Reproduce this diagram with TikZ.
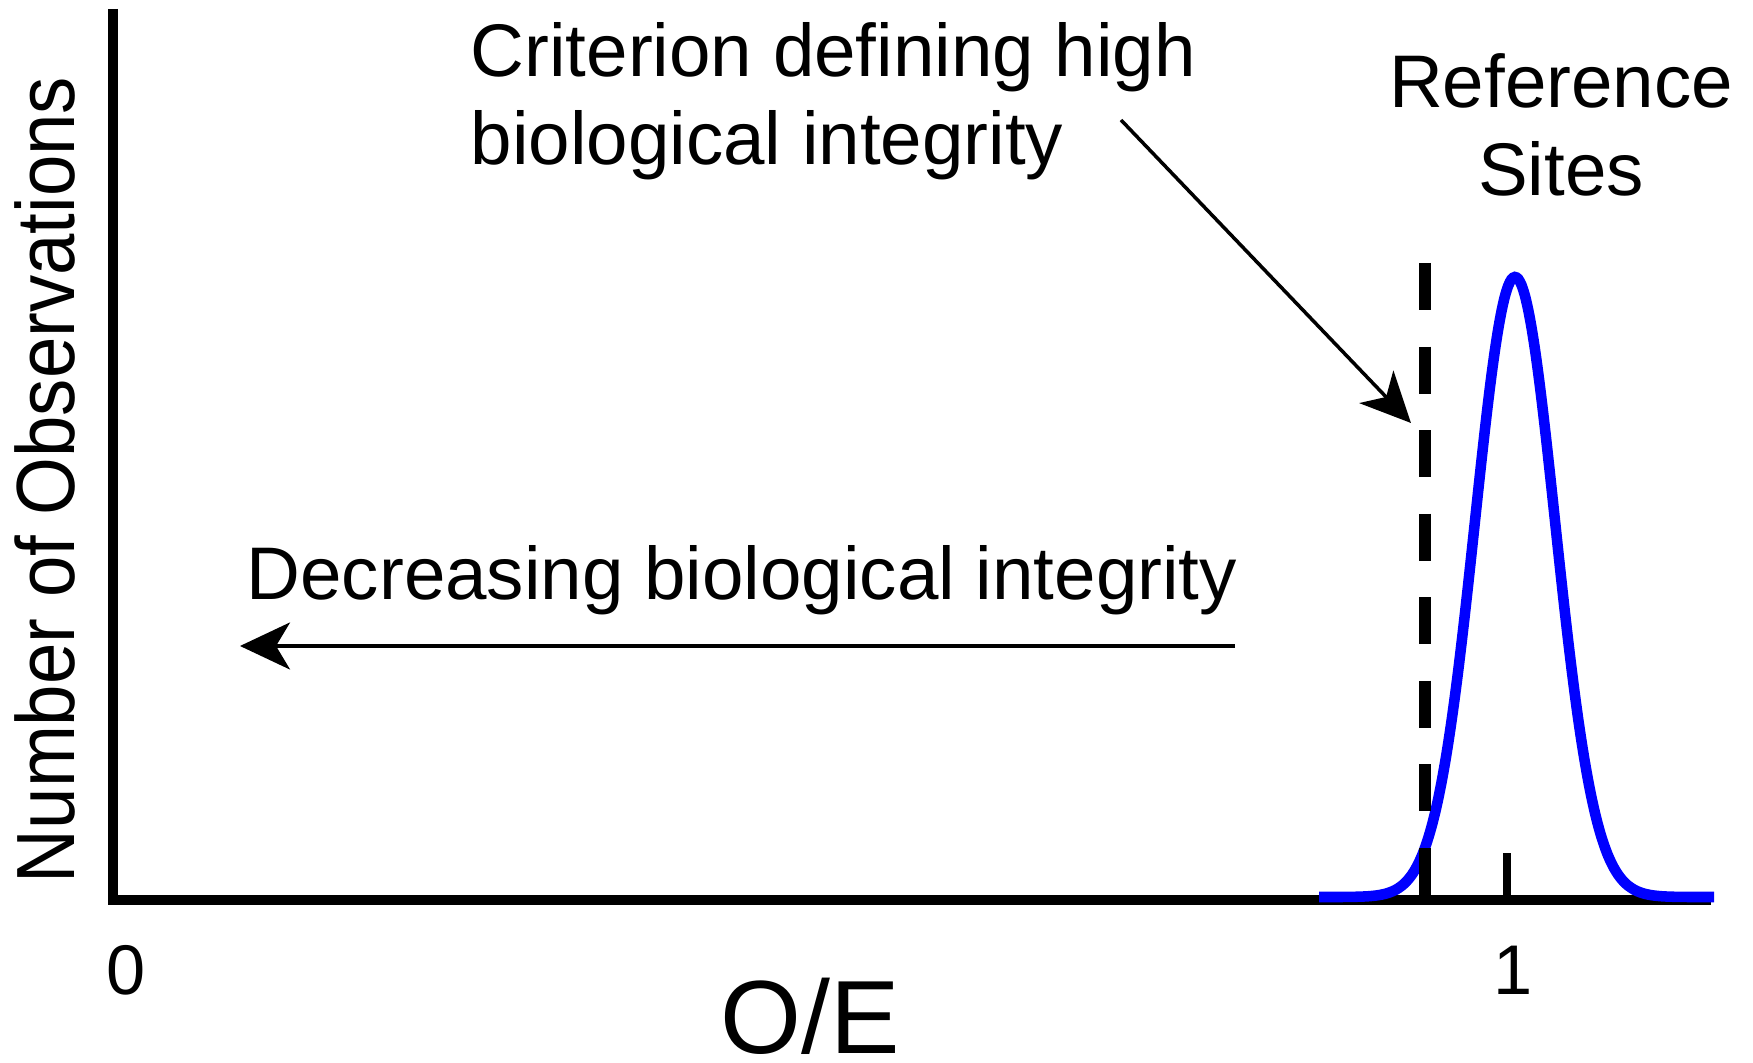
\documentclass[tikz,border=0pt]{standalone}
\usepackage{fontspec}
\setmainfont{Liberation Sans}
\usetikzlibrary{arrows.meta,positioning}

\begin{document}
\begin{tikzpicture}[x=0.01cm,y=0.01cm]
    \tikzstyle{every node}+=[inner sep=0pt]
    \tikzstyle{axisline}=[black, line width=3.1pt, line join=miter]
    \tikzstyle{note}=[font=\fontsize{21.2}{25.2}\selectfont, align=left]
    \tikzstyle{pointer}=[black, line width=1pt, -{Stealth[length=0.5cm, width=0.47cm, inset=0.14cm]}]
    \useasboundingbox (0,0) rectangle (1753,1063);
    % axes
    \draw [axisline] (113,1054) -- (113,163) -- (1711,163);
    \draw [black, line width=2pt] (1507,163) -- (1507,210);
    \node [font=\fontsize{20}{22}\selectfont] (zero) at (126,93) {0};
    \node [font=\fontsize{20}{22}\selectfont] (one) at (1513,93) {1};
    \node [font=\fontsize{29.6}{32}\selectfont] (oe) at (810,47) {O/E};
    \node [rotate=90, font=\fontsize{23.5}{26}\selectfont] (ylabel) at (45,583) {\scalebox{0.9}[1]{Number of Observations}};
    % reference distribution
    \draw [blue, line width=3pt, domain=1319:1714, samples=120, smooth]
        plot (\x, {166+620*exp(-((\x-1515)/40)^2/2)});
    \draw [black, line width=3.3pt, dash pattern=on 0.47cm off 0.365cm] (1425,800) -- (1425,163);
    % labels
    \node [note, anchor=base west] (crit) at (470,898) {Criterion defining high\\biological integrity};
    \node [note, align=center, anchor=base] (refsites) at (1561,867) {Reference\\Sites};
    \node [note, anchor=base west] (decr) at (246,463) {Decreasing biological integrity};
    \coordinate (critfrom) at (1121,943);
    \coordinate (critto) at (1411,640);
    \draw [pointer] (critfrom) -- (critto);
    \coordinate (decrfrom) at (1235,417);
    \coordinate (decrto) at (240,417);
    \draw [pointer] (decrfrom) -- (decrto);
\end{tikzpicture}
\end{document}
